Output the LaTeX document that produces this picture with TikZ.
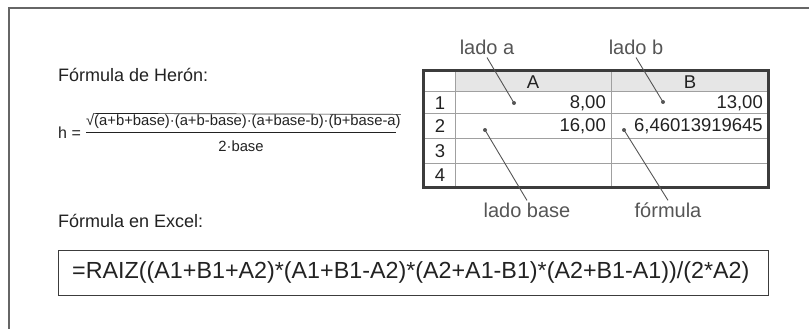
\documentclass[tikz,border=0pt]{standalone}
\usepackage{fontspec}
\setmainfont{Liberation Sans}
\definecolor{ink}{HTML}{222222}
\definecolor{frame}{HTML}{666666}
\definecolor{grid}{HTML}{A0A0A0}
\definecolor{border}{HTML}{3C3C3C}
\definecolor{headfill}{HTML}{E6E6E6}
\definecolor{note}{HTML}{555555}
\tikzset{
  txt/.style={inner sep=0pt, text=ink, font=\fontsize{18}{20}\selectfont},
  cell/.style={inner sep=0pt, text=ink, font=\fontsize{18.5}{20}\selectfont},
  frm/.style={inner sep=0pt, text=ink, font=\fontsize{14.8}{16}\selectfont},
  notelabel/.style={inner sep=0pt, text=note, font=\fontsize{20}{22}\selectfont},
  leader/.style={draw=note, line width=0.9pt},
  dot/.style={circle, fill=note, inner sep=0pt, minimum size=4pt},
}
\begin{document}
\begin{tikzpicture}[x=1pt, y=-1pt]
\useasboundingbox (0,0) rectangle (809,329);
% open frame: top and left edges
\draw[frame, line width=2pt] (809,8) -- (9,8) -- (9,329);

% Heron's formula
\node[txt, anchor=west] (t1) at (58,75) {Fórmula de Herón:};
\node[inner sep=0pt, text=ink, font=\fontsize{16}{18}\selectfont, anchor=west] (h) at (58,133) {h =};
\node[frm, anchor=base west] (sq) at (86,125) {√};
\node[frm, anchor=base west] (rad) at ([xshift=-0.5pt]sq.base east) {(a+b+base)·(a+b-base)·(a+base-b)·(b+base-a)};
\draw[ink, line width=0.7pt] ([xshift=-1pt,yshift=-0.3pt]sq.north east) -- ([yshift=-0.3pt]rad.north east);
\coordinate (barL) at (86,132);
\coordinate (barR) at (396,132);
\draw[ink, line width=0.8pt] (barL) -- (barR);
\node[frm] (den) at (241,146) {2·base};

% spreadsheet
\fill[headfill] (455,71) rectangle (768,92);
\foreach \y in {92,113,138,163}
  \draw[grid, line width=1pt] (423,\y) -- (768,\y);
\foreach \x in {455,611}
  \draw[grid, line width=1pt] (\x,71) -- (\x,187);
\draw[border, line width=3pt] (423,71) rectangle (768,187);

\node[cell] (hA) at (533,82) {A};
\node[cell] (hB) at (690,82) {B};
\node[cell] (r1) at (440,103) {1};
\node[cell] (r2) at (440,126) {2};
\node[cell] (r3) at (440,151) {3};
\node[cell] (r4) at (440,175) {4};
\node[cell, anchor=east] (a1) at (606,103) {8,00};
\node[cell, anchor=east] (b1) at (763,103) {13,00};
\node[cell, anchor=east] (a2) at (606,126) {16,00};
\node[cell, anchor=east] (b2) at (763,126) {6,46013919645};

% callouts
\node[notelabel] (la) at (487,47) {lado a};
\node[notelabel] (lb) at (636,47) {lado b};
\node[notelabel] (lbase) at (527,210) {lado base};
\node[notelabel] (lf) at (668,210) {fórmula};
\node[dot] (da) at (514,103) {};
\node[dot] (db) at (663,102) {};
\node[dot] (dbase) at (485,130) {};
\node[dot] (df) at (624,130) {};
\draw[leader] ([yshift=-3pt]la.south) -- (da.center);
\draw[leader] ([yshift=-3pt]lb.south) -- (db.center);
\draw[leader] ([yshift=2pt]lbase.north) -- (dbase.center);
\draw[leader] ([yshift=2pt]lf.north) -- (df.center);

% Excel formula
\node[txt, anchor=west] (t2) at (58,221) {Fórmula en Excel:};
\node[draw=border, line width=1.3pt, minimum width=710pt, minimum height=45pt, anchor=north west, inner sep=0pt] (box) at (58,250) {};
\node[inner sep=0pt, text=ink, font=\fontsize{23.3}{26}\selectfont, anchor=west] (xl) at (72,272.5) {=RAIZ((A1+B1+A2)*(A1+B1-A2)*(A2+A1-B1)*(A2+B1-A1))/(2*A2)};
\end{tikzpicture}
\end{document}
